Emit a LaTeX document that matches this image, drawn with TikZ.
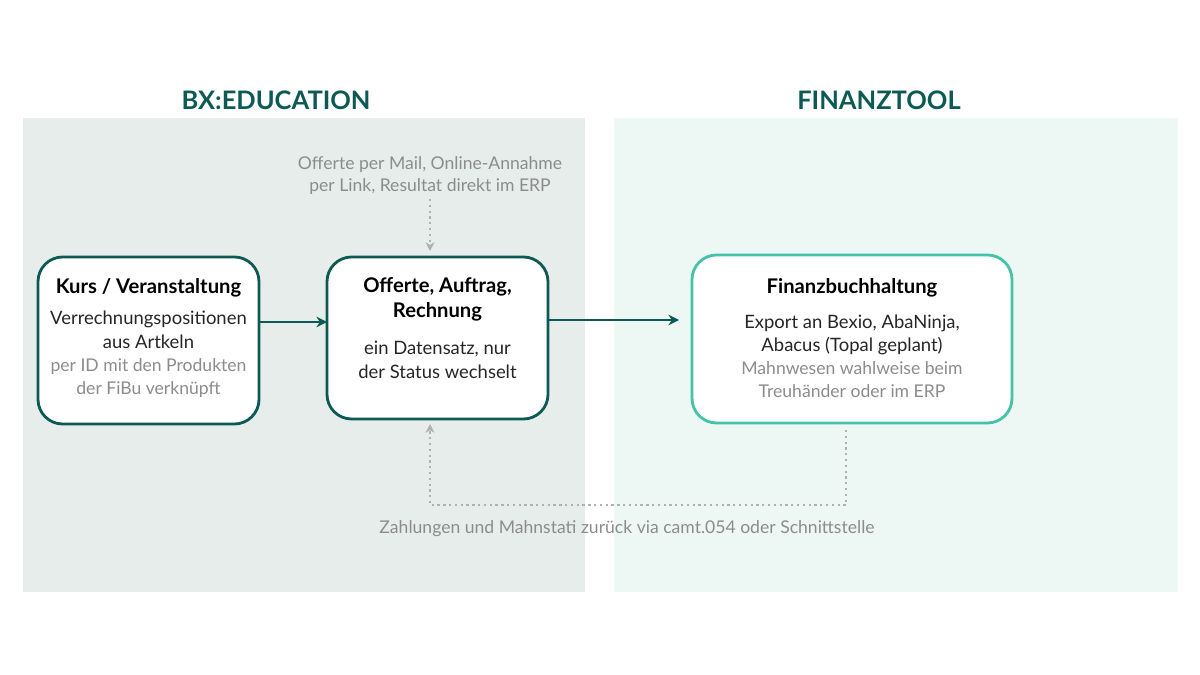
\documentclass[tikz,border=0pt]{standalone}
\usepackage{fontspec}
\setmainfont{Lato}
\usetikzlibrary{positioning,arrows.meta}
\definecolor{darkteal}{HTML}{0D5A55}
\definecolor{lightteal}{HTML}{45C2A8}
\definecolor{panelgrey}{HTML}{E7EDEB}
\definecolor{panelmint}{HTML}{EDF7F3}
\definecolor{notegrey}{HTML}{8C8C8C}
\definecolor{dotgrey}{HTML}{B0B0B0}
\tikzset{
  box/.style={draw=darkteal, line width=1.6pt, rounded corners=14pt, fill=white},
  head/.style={font=\bfseries\fontsize{11.5}{14}\selectfont, align=center},
  body/.style={font=\fontsize{10.5}{13.5}\selectfont, align=center, text=black!85},
  note/.style={font=\fontsize{10}{13}\selectfont, align=center, text=notegrey},
  title/.style={font=\bfseries\fontsize{14.5}{17}\selectfont, text=darkteal},
  flow/.style={-{Stealth[length=6pt,width=6pt]}, draw=darkteal, line width=1.4pt},
  back/.style={-{Stealth[length=5pt,width=5pt]}, draw=dotgrey, line width=1.3pt, dotted}
}
\begin{document}
\begin{tikzpicture}[x=0.02cm,y=-0.02cm]
    \useasboundingbox (0,0) rectangle (1200,675);
    % panels
    \fill[panelgrey] (23,118) rectangle (585,592);
    \fill[panelmint] (614,118) rectangle (1178,592);
    \node[title] (bxtitle) at (276,100) {BX:EDUCATION};
    \node[title] (fintitle) at (879,100) {FINANZTOOL};
    % boxes
    \draw[box] (38,257) rectangle (259,424);
    \coordinate (kurs) at (148.5,340.5);
    \draw[box] (327,257) rectangle (548,419);
    \coordinate (offerte) at (437.5,338);
    \draw[box, draw=lightteal] (692,255) rectangle (1012,423);
    \coordinate (fibu) at (852,339);
    \node[head] (kurshead) at (148.5,288) {Kurs / Veranstaltung};
    \node[body] (kursbody) at (148.5,330) {Verrechnungspositionen\\aus Artkeln};
    \node[note] (kursnote) at (148.5,378) {per ID mit den Produkten\\der FiBu verknüpft};
    \node[head] (offhead) at (437.5,299.5) {Offerte, Auftrag,\\Rechnung};
    \node[body] (offbody) at (437.5,360) {ein Datensatz, nur\\der Status wechselt};
    \node[head] (fibuhead) at (852,288) {Finanzbuchhaltung};
    \node[body] (fibubody) at (852,335) {Export an Bexio, AbaNinja,\\Abacus (Topal geplant)};
    \node[note] (fibunote) at (852,380) {Mahnwesen wahlweise beim\\Treuhänder oder im ERP};
    % connectors
    \coordinate (kursout) at (259,322);
    \coordinate (offin) at (327,322);
    \coordinate (offout) at (548,320);
    \coordinate (fibuin) at (679,320);
    \draw[flow] (kursout) -- (offin);
    \draw[flow] (offout) -- (fibuin);
    \node[note] (mailnote) at (430,175.5) {Offerte per Mail, Online-Annahme\\per Link, Resultat direkt im ERP};
    \coordinate (offtop) at (430,251);
    \draw[back] (430,199) -- (offtop);
    \coordinate (fibubottom) at (846,430);
    \coordinate (offbottom) at (430,424);
    \draw[back] (fibubottom) -- (846,505) -- (430,505) -- (offbottom);
    \node[note] (backnote) at (627,529) {Zahlungen und Mahnstati zurück via camt.054 oder Schnittstelle};
\end{tikzpicture}
\end{document}
